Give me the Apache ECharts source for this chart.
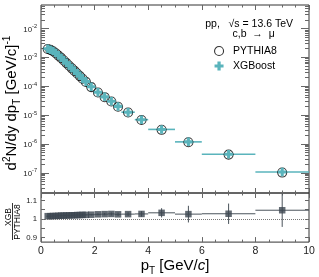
<!DOCTYPE html>
<html><head><meta charset="utf-8">
<script src="https://cdn.jsdelivr.net/npm/echarts@6/dist/echarts.min.js"></script>
<style>html,body{margin:0;padding:0;background:#fff}#c{width:319px;height:277px}</style>
</head><body><div id="c"></div>
<script>
// ---- data ----
const ptLow  = [0.2,0.3,0.4,0.5,0.6,0.7,0.8,0.9,1.0,1.1,1.2,1.3,1.4,1.5,1.6,1.75,2.0,2.25,2.5,2.75,3.0,3.5,4,5,6,8];
const ptHigh = [0.3,0.4,0.5,0.6,0.7,0.8,0.9,1.0,1.1,1.2,1.3,1.4,1.5,1.6,1.75,2.0,2.25,2.5,2.75,3.0,3.5,4,5,6,8,10];
const pythiaValues = [1.95e-3,1.82e-3,1.62e-3,1.38e-3,1.15e-3,9.55e-4,7.76e-4,6.31e-4,5.13e-4,4.17e-4,3.39e-4,2.75e-4,2.24e-4,1.82e-4,1.41e-4,9.33e-5,6.03e-5,4.17e-5,2.95e-5,1.95e-5,1.23e-5,6.76e-6,3.09e-6,1.15e-6,4.27e-7,1.02e-7];
const xgbValues    = [1.98e-3,1.85e-3,1.65e-3,1.40e-3,1.17e-3,9.72e-4,7.90e-4,6.43e-4,5.23e-4,4.25e-4,3.46e-4,2.81e-4,2.29e-4,1.86e-4,1.44e-4,9.54e-5,6.18e-5,4.28e-5,3.03e-5,2.00e-5,1.26e-5,6.94e-6,3.19e-6,1.18e-6,4.39e-7,1.07e-7];
const ratioValues  = [1.015,1.015,1.016,1.016,1.017,1.018,1.018,1.019,1.019,1.020,1.020,1.021,1.021,1.022,1.022,1.023,1.025,1.026,1.027,1.025,1.026,1.027,1.033,1.026,1.028,1.047];
const ratioErrors  = [0.002,0.002,0.002,0.002,0.002,0.002,0.002,0.002,0.002,0.002,0.003,0.003,0.003,0.003,0.003,0.004,0.005,0.006,0.008,0.009,0.010,0.015,0.025,0.045,0.055,0.090];
const xTickLabels = [0,2,4,6,8,10];
const yMajorTicks = [1e-7,1e-6,1e-5,1e-4,1e-3,1e-2];
const ratioTicks = [0.9,0.95,1,1.05,1.1];
const ratioTickLabels = [0.9,1,1.1];

// ---- styles ----
const teal = '#5ab4bc';
const dark = '#3c4650';
const FONT = 'Liberation Sans';
const tickColor = '#666';
const yMinorTicks = [];
for (let e = -8; e <= -2; e++) for (let m = 2; m <= 9; m++) {
  const v = m * Math.pow(10, e);
  if (v > 2e-8 && v < 0.065) yMinorTicks.push(v);
}
const crossPath = 'path://M3.2,0H6.8V3.2H10V6.8H6.8V10H3.2V6.8H0V3.2H3.2Z';
const centers = ptLow.map((l, i) => (l + ptHigh[i]) / 2);

function xAx(grid, pos, labels, extra) {
  return Object.assign({
    type: 'value', gridIndex: grid, position: pos, min: 0, max: 10, interval: 2,
    axisLine: {show: false, onZero: false}, splitLine: {show: false},
    axisTick: {show: true, inside: true, length: 5, lineStyle: {color: tickColor}},
    minorTick: {show: true, splitNumber: 4, length: 2.5, lineStyle: {color: tickColor}},
    axisLabel: {show: labels, margin: 4, fontSize: 10.5, color: '#222', fontFamily: FONT,
      customValues: xTickLabels}
  }, extra || {});
}
function yLog(pos, ticks, len, labels) {
  return {
    type: 'log', gridIndex: 0, position: pos, min: 2e-8, max: 0.065,
    axisLine: {show: false, onZero: false}, splitLine: {show: false},
    axisTick: {show: true, inside: true, length: len, customValues: ticks, lineStyle: {color: tickColor}},
    minorTick: {show: false},
    axisLabel: labels ? {
      show: true, margin: 4, customValues: yMajorTicks,
      formatter: v => '{b|10}{s|' + Math.round(Math.log10(v)) + '}',
      rich: {
        b: {fontSize: 7.8, fontFamily: FONT, color: '#222', lineHeight: 10, verticalAlign: 'bottom'},
        s: {fontSize: 5.6, fontFamily: FONT, color: '#222', lineHeight: 6, verticalAlign: 'top'}
      }
    } : {show: false}
  };
}
function yRatio(pos, labels) {
  return {
    type: 'value', gridIndex: 1, position: pos, min: 0.875, max: 1.14,
    axisLine: {show: false, onZero: false}, splitLine: {show: false},
    axisTick: {show: true, inside: true, length: 4, customValues: ratioTicks, lineStyle: {color: tickColor}},
    axisLabel: labels ? {show: true, margin: 4, customValues: ratioTickLabels, fontSize: 7.8,
      fontFamily: FONT, color: '#222', formatter: v => (v === 1 ? '1' : v.toFixed(1))} : {show: false}
  };
}

const option = {
  animation: false,
  backgroundColor: '#fff',
  textStyle: {fontFamily: FONT},
  grid: [
    {left: 41, right: 10, top: 5, height: 188, show: true, borderColor: '#333', borderWidth: 1, backgroundColor: 'transparent'},
    {left: 41, right: 10, top: 193, height: 50, show: true, borderColor: '#333', borderWidth: 1, backgroundColor: 'transparent'}
  ],
  xAxis: [
    xAx(0, 'bottom', false),
    xAx(0, 'top', false),
    xAx(1, 'bottom', true, {
      name: '{n|p}{sub|T}{n| [GeV/}{i|c}{n|]}', nameLocation: 'middle', nameGap: 10,
      nameTextStyle: {rich: {
        n: {fontSize: 15, fontFamily: FONT, color: '#000', lineHeight: 18, verticalAlign: 'top'},
        i: {fontSize: 15, fontFamily: FONT, fontStyle: 'italic', color: '#000', lineHeight: 18, verticalAlign: 'top'},
        sub: {fontSize: 10, fontFamily: FONT, color: '#000', lineHeight: 10, verticalAlign: 'bottom'}
      }}
    }),
    xAx(1, 'top', false)
  ],
  yAxis: [
    yLog('left', yMajorTicks, 8, true),
    yLog('left', yMinorTicks, 4, false),
    yLog('right', yMajorTicks, 8, false),
    yLog('right', yMinorTicks, 4, false),
    yRatio('left', true),
    yRatio('right', false)
  ],
  legend: {
    left: 209, top: 40, orient: 'vertical', itemWidth: 18, itemHeight: 9, itemGap: 3,
    textStyle: {fontSize: 10.5, fontFamily: FONT, color: '#000', lineHeight: 12},
    data: [
      {name: 'PYTHIA8', icon: 'circle', itemStyle: {color: '#fff', borderColor: '#000', borderWidth: 1.1}},
      {name: 'XGBoost', icon: crossPath, itemStyle: {color: teal, borderWidth: 0}}
    ]
  },
  graphic: [
    {type: 'text', x: 293, y: 24, style: {text: 'pp,   √s = 13.6 TeV', font: '10.5px "Liberation Sans"', fill: '#000', align: 'right', verticalAlign: 'middle'}},
    {type: 'text', x: 232.5, y: 34, style: {text: 'c,b  →  μ', font: '10.5px "Liberation Sans"', fill: '#000', align: 'left', verticalAlign: 'middle'}},
    {type: 'text', x: 12, y: 103, rotation: Math.PI / 2, style: {
      text: '{n|d}{sup|2}{n|N/dy dp}{sub|T}{n| [GeV/c]}{sup|-1}', align: 'center', verticalAlign: 'middle',
      rich: {
        n: {font: '15px "Liberation Sans"', fill: '#000', lineHeight: 20, verticalAlign: 'middle'},
        sup: {font: '10px "Liberation Sans"', fill: '#000', lineHeight: 9, verticalAlign: 'top'},
        sub: {font: '10px "Liberation Sans"', fill: '#000', lineHeight: 9, verticalAlign: 'bottom'}
      }}},
    {type: 'text', x: 8.5, y: 217, rotation: Math.PI / 2, style: {text: 'XGB', font: '8.5px "Liberation Sans"', fill: '#000', align: 'center', verticalAlign: 'middle'}},
    {type: 'line', shape: {x1: 12.5, y1: 203, x2: 12.5, y2: 240}, style: {stroke: '#000', lineWidth: 0.8}},
    {type: 'text', x: 17.5, y: 222, rotation: Math.PI / 2, style: {text: 'PYTHIA8', font: '8.5px "Liberation Sans"', fill: '#000', align: 'center', verticalAlign: 'middle'}}
  ],
  series: [
    {
      type: 'custom', xAxisIndex: 0, yAxisIndex: 0, clip: true,
      data: ptLow.map((l, i) => [l, ptHigh[i], xgbValues[i]]),
      encode: {x: [0, 1], y: 2},
      renderItem: (params, api) => {
        const a = api.coord([api.value(0), api.value(2)]);
        const b = api.coord([api.value(1), api.value(2)]);
        return {type: 'line', shape: {x1: a[0], y1: a[1], x2: b[0], y2: b[1]}, style: {stroke: teal, lineWidth: 1.6}};
      }
    },
    {
      name: 'PYTHIA8', type: 'scatter', xAxisIndex: 0, yAxisIndex: 0,
      data: centers.map((c, i) => [c, pythiaValues[i]]),
      symbol: 'circle', symbolSize: 9,
      itemStyle: {color: 'rgba(255,255,255,0)', borderColor: '#000', borderWidth: 1.1}
    },
    {
      name: 'XGBoost', type: 'scatter', xAxisIndex: 0, yAxisIndex: 0,
      data: centers.map((c, i) => [c, xgbValues[i]]),
      symbol: crossPath, symbolSize: 8.5,
      itemStyle: {color: teal, borderWidth: 0, opacity: 1}
    },
    {
      type: 'custom', xAxisIndex: 2, yAxisIndex: 4, clip: true,
      data: ptLow.map((l, i) => [l, ptHigh[i], ratioValues[i], ratioErrors[i], centers[i]]),
      encode: {x: [0, 1], y: 2},
      renderItem: (params, api) => {
        const a = api.coord([api.value(0), api.value(2)]);
        const b = api.coord([api.value(1), api.value(2)]);
        const t = api.coord([api.value(4), api.value(2) + api.value(3)]);
        const d = api.coord([api.value(4), api.value(2) - api.value(3)]);
        return {type: 'group', children: [
          {type: 'line', shape: {x1: a[0], y1: a[1], x2: b[0], y2: b[1]}, style: {stroke: '#4a535b', lineWidth: 1}},
          {type: 'line', shape: {x1: t[0], y1: t[1], x2: d[0], y2: d[1]}, style: {stroke: '#4a535b', lineWidth: 1}}
        ]};
      },
      markLine: {
        silent: true, symbol: 'none', label: {show: false},
        lineStyle: {color: '#777', type: 'dotted', width: 1},
        data: [{yAxis: 1}]
      }
    },
    {
      name: 'ratio', type: 'scatter', xAxisIndex: 2, yAxisIndex: 4,
      data: centers.map((c, i) => [c, ratioValues[i]]),
      symbol: 'rect', symbolSize: 6.5,
      itemStyle: {color: dark}
    }
  ]
};
const chart = echarts.init(document.getElementById('c'), null, {renderer: 'canvas'});
chart.setOption(option);
</script>
</body></html>
